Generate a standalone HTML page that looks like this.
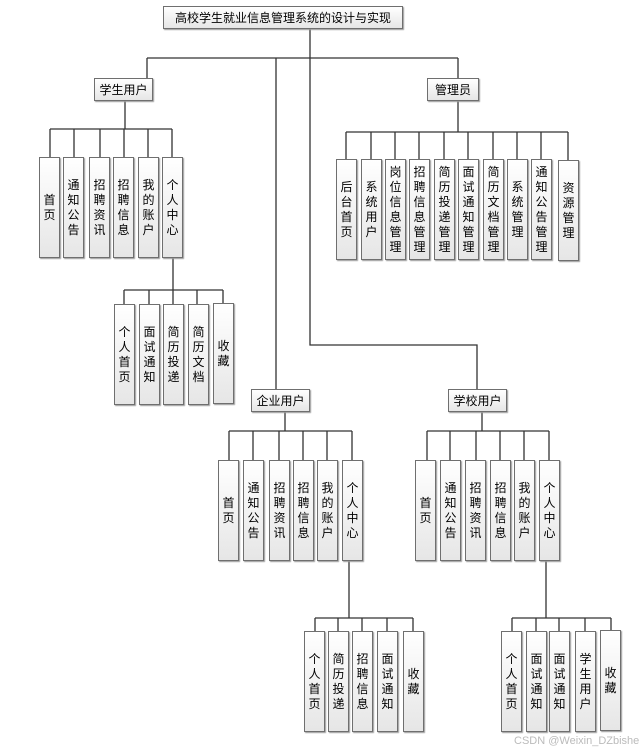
<!DOCTYPE html>
<html><head><meta charset="utf-8"><style>
body{margin:0;width:643px;height:753px;background:#fff;position:relative;overflow:hidden;font-family:"Liberation Sans","Noto Sans CJK SC",sans-serif;}
svg{position:absolute;left:0;top:0}
.b{position:absolute;box-sizing:border-box;border:1px solid #6f6f6f;background:linear-gradient(#fff,#e6e6e6);box-shadow:1px 1px 1px #9a9a9a;display:flex;align-items:center;justify-content:center;font-size:12px;color:#000;}
.v{width:21px;height:101px;flex-direction:column;line-height:15px;text-align:center;padding:0 2px;word-break:break-all;}
.h{height:23px;}
</style></head><body>
<svg width="643" height="753" stroke="#333" stroke-width="1.3" fill="none">
<path d="M310 29V345H477V389M147 58H458M147 58V78M276 58V389M458 58V78"/>
<path d="M125 101V129M50 129H172M50 129V157M74 129V157M100 129V157M124 129V157M148 129V157M172 129V157"/>
<path d="M173 258V304M124 290H223M124 290V304M149 290V304M197 290V304M223 290V303"/>
<path d="M458 100V132M346 132H568M346 132V159M371 132V159M395 132V159M419 132V159M444 132V159M468 132V159M493 132V159M517 132V159M541 132V159M568 132V160"/>
<path d="M285 411V431M229 431H352M229 431V460M253 431V460M279 431V460M303 431V460M327 431V460M352 431V460"/>
<path d="M349 560V618M315 618H413M315 618V631M338 618V631M362 618V631M387 618V631M413 618V631"/>
<path d="M482 411V431M427 431H549M427 431V460M450 431V460M476 431V460M500 431V460M524 431V460M549 431V460"/>
<path d="M546 560V618M512 618H611M512 618V631M536 618V631M559 618V631M585 618V631M611 618V631"/>
</svg>
<div class="b" style="left:163px;top:6px;width:240px;height:23px;">高校学生就业信息管理系统的设计与实现</div>
<div class="b h" style="left:94px;top:78px;width:59px;">学生用户</div>
<div class="b h" style="left:427px;top:78px;width:52px;">管理员</div>
<div class="b h" style="left:251px;top:389px;width:59px;">企业用户</div>
<div class="b h" style="left:448px;top:389px;width:59px;">学校用户</div>

<div class="b v" style="left:39px;top:157px">首页</div>
<div class="b v" style="left:63px;top:157px">通知公告</div>
<div class="b v" style="left:89px;top:157px">招聘资讯</div>
<div class="b v" style="left:113px;top:157px">招聘信息</div>
<div class="b v" style="left:138px;top:157px">我的账户</div>
<div class="b v" style="left:162px;top:157px">个人中心</div>

<div class="b v" style="left:114px;top:304px">个人首页</div>
<div class="b v" style="left:139px;top:304px">面试通知</div>
<div class="b v" style="left:163px;top:304px">简历投递</div>
<div class="b v" style="left:188px;top:304px">简历文档</div>
<div class="b v" style="left:213px;top:303px">收藏</div>

<div class="b v" style="left:336px;top:159px">后台首页</div>
<div class="b v" style="left:361px;top:159px">系统用户</div>
<div class="b v" style="left:385px;top:159px">岗位信息管理</div>
<div class="b v" style="left:409px;top:159px">招聘信息管理</div>
<div class="b v" style="left:434px;top:159px">简历投递管理</div>
<div class="b v" style="left:458px;top:159px">面试通知管理</div>
<div class="b v" style="left:483px;top:159px">简历文档管理</div>
<div class="b v" style="left:507px;top:159px">系统管理</div>
<div class="b v" style="left:531px;top:159px">通知公告管理</div>
<div class="b v" style="left:558px;top:160px">资源管理</div>

<div class="b v" style="left:218px;top:460px">首页</div>
<div class="b v" style="left:243px;top:460px">通知公告</div>
<div class="b v" style="left:269px;top:460px">招聘资讯</div>
<div class="b v" style="left:293px;top:460px">招聘信息</div>
<div class="b v" style="left:317px;top:460px">我的账户</div>
<div class="b v" style="left:342px;top:460px">个人中心</div>

<div class="b v" style="left:304px;top:631px">个人首页</div>
<div class="b v" style="left:328px;top:631px">简历投递</div>
<div class="b v" style="left:352px;top:631px">招聘信息</div>
<div class="b v" style="left:377px;top:631px">面试通知</div>
<div class="b v" style="left:403px;top:631px">收藏</div>

<div class="b v" style="left:415px;top:460px">首页</div>
<div class="b v" style="left:440px;top:460px">通知公告</div>
<div class="b v" style="left:465px;top:460px">招聘资讯</div>
<div class="b v" style="left:490px;top:460px">招聘信息</div>
<div class="b v" style="left:514px;top:460px">我的账户</div>
<div class="b v" style="left:539px;top:460px">个人中心</div>

<div class="b v" style="left:501px;top:631px">个人首页</div>
<div class="b v" style="left:526px;top:631px">面试通知</div>
<div class="b v" style="left:549px;top:631px">面试通知</div>
<div class="b v" style="left:575px;top:631px">学生用户</div>
<div class="b v" style="left:600px;top:630px">收藏</div>

<div style="position:absolute;left:514px;top:735px;font-size:11px;color:#bbb;">CSDN @Weixin_DZbishe</div>
</body></html>
